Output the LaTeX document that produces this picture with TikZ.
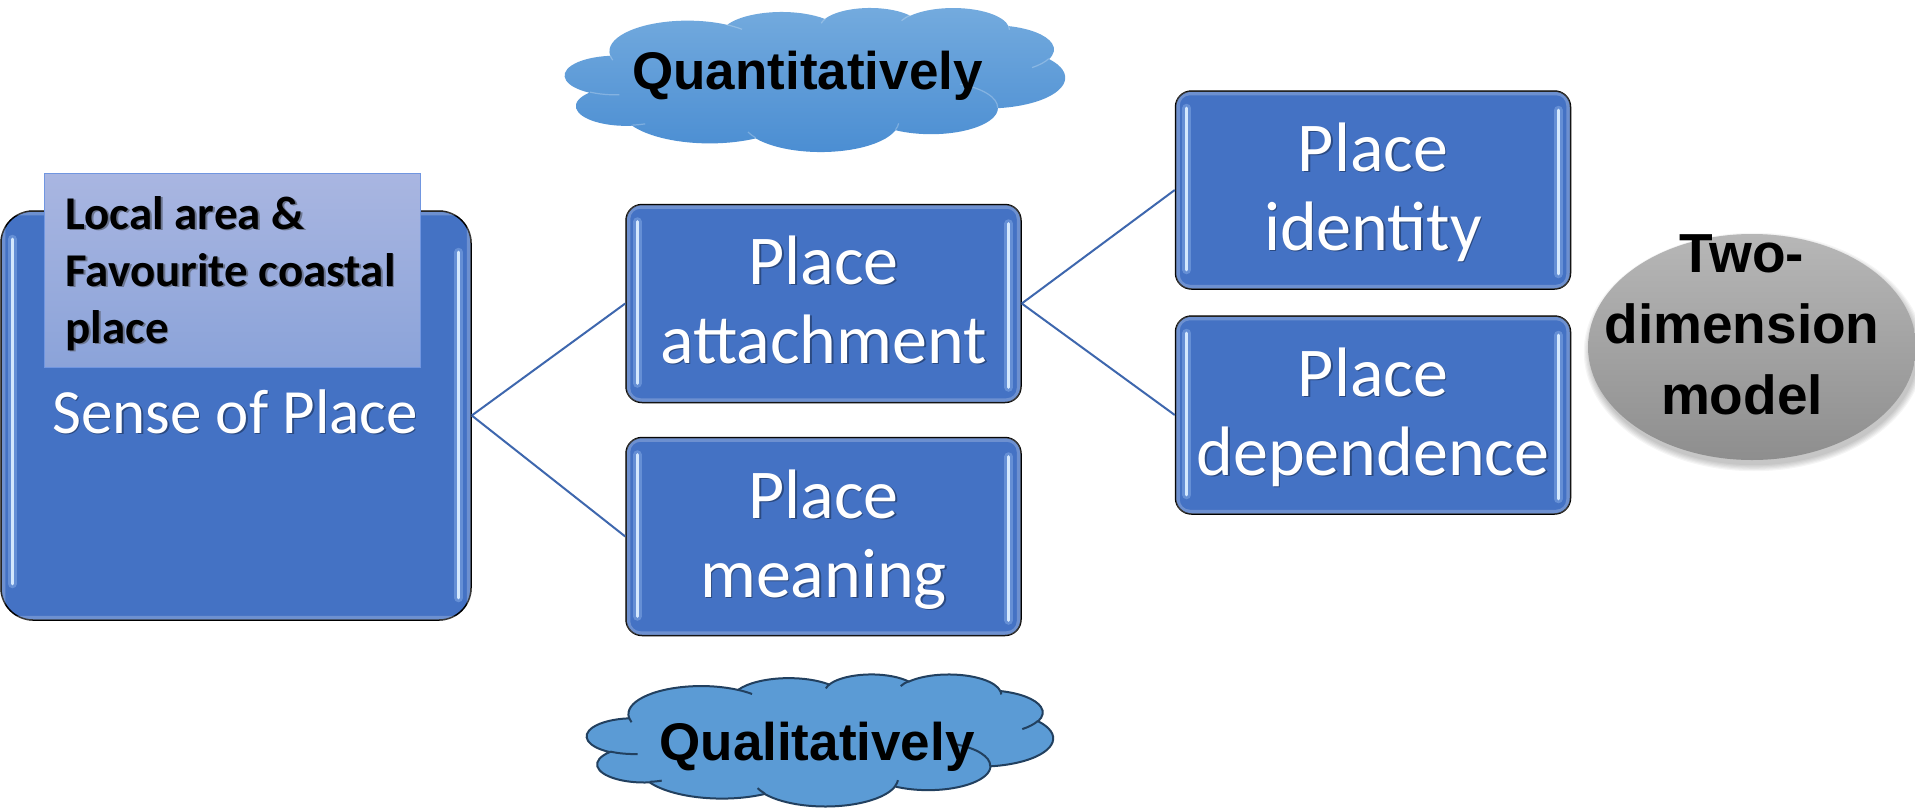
\documentclass[tikz,border=0pt]{standalone}
\usepackage{fontspec}
\setmainfont{Carlito}
\newfontfamily\arialfont{Liberation Sans}
\usetikzlibrary{calc,shapes.geometric}

\definecolor{boxblue}{HTML}{4472C4}
\definecolor{linkblue}{HTML}{3E67AE}
\definecolor{glintcore}{HTML}{D4E8FD}
\definecolor{glintglow}{HTML}{8FB4EA}
\definecolor{tagtop}{HTML}{A9B6E1}
\definecolor{tagbottom}{HTML}{8BA3D9}
\definecolor{tagedge}{HTML}{7196E0}
\definecolor{tagshadow}{HTML}{6C7690}
\definecolor{whiteshadow}{HTML}{2B4A82}
\definecolor{qtop}{HTML}{74ABDE}
\definecolor{qbottom}{HTML}{4A8DD2}
\definecolor{qlfill}{HTML}{5B9BD5}
\definecolor{qledge}{HTML}{22405F}
\definecolor{ovaltop}{HTML}{B7B7B7}
\definecolor{ovalbottom}{HTML}{8E8E8E}

% text with a small offset copy underneath
\newcommand\withshadow[3]{\leavevmode\rlap{\kern#2\raisebox{-#2}{\color{#1}#3}}#3}

% cloud outline in a 432 x 432 frame (y downwards)
\newcommand\cloudshape[1]{#1 (39.00,143.70)
  arc[start angle=-187.746, delta angle=128.110, x radius=67.53, y radius=91.90]
  arc[start angle=-152.019, delta angle=106.575, x radius=53.33, y radius=72.67]
  arc[start angle=-153.490, delta angle=116.168, x radius=43.65, y radius=59.45]
  arc[start angle=-139.717, delta angle=129.505, x radius=48.57, y radius=65.95]
  arc[start angle=-74.768, delta angle=97.977, x radius=53.33, y radius=72.73]
  arc[start angle=-37.520, delta angle=119.382, x radius=67.75, y radius=92.20]
  arc[start angle=0.460, delta angle=121.519, x radius=57.85, y radius=78.67]
  arc[start angle=16.846, delta angle=129.393, x radius=67.52, y radius=92.15]
  arc[start angle=58.992, delta angle=91.206, x radius=77.20, y radius=105.43]
  arc[start angle=-276.694, delta angle=139.785, x radius=43.60, y radius=59.18]
  arc[start angle=-239.644, delta angle=143.757, x radius=43.45, y radius=59.45]
  -- cycle;}
% the short inner folds between the puffs
\newcommand\cloudfolds[1]{\draw[#1]
  (46.93,261.77) arc[start angle=85.547, delta angle=34.809, x radius=43.45, y radius=59.45]
  (69.28,348.99) arc[start angle=68.237, delta angle=15.069, x radius=43.60, y radius=59.18]
  (164.78,390.90) arc[start angle=146.239, delta angle=12.234, x radius=67.52, y radius=92.15]
  (288.27,347.51) arc[start angle=4.738, delta angle=12.108, x radius=67.52, y radius=92.15]
  (341.29,229.54) arc[start angle=-64.028, delta angle=64.488, x radius=57.85, y radius=78.67]
  (417.98,153.54) arc[start angle=23.209, delta angle=26.420, x radius=53.33, y radius=72.73]
  (383.24,54.26) arc[start angle=-10.212, delta angle=11.033, x radius=48.57, y radius=65.95]
  (290.78,39.52) arc[start angle=-156.289, delta angle=16.572, x radius=48.57, y radius=65.95]
  (221.41,47.20) arc[start angle=-167.727, delta angle=14.237, x radius=43.65, y radius=59.45]
  (140.00,51.92) arc[start angle=-59.636, delta angle=13.913, x radius=67.53, y radius=91.90]
  (41.27,157.89) arc[start angle=163.194, delta angle=9.060, x radius=67.53, y radius=91.90];}

% two light strips along the inner left and right edges of a box
\newcommand\glint[5]{%
  \foreach \w/\c/\o in {4.5pt/glintglow/0.45, 1.6pt/glintcore/1} {
    \draw[line width=\w, draw=\c, opacity=\o, line cap=round]
      ($(#1.north west)+(12,#2)$) -- ($(#1.south west)+(12,-#3)$)
      ($(#1.north east)+(-13,#4)$) -- ($(#1.south east)+(-13,-#5)$);
  }%
  \draw[white, opacity=0.22, line width=2pt, rounded corners=6pt]
    ($(#1.north west)+(3,3)$) rectangle ($(#1.south east)+(-3,-3)$);
}

\tikzset{
  pbox/.style={draw=black, line width=0.75pt, fill=boxblue, rounded corners=8pt,
    inner sep=0pt, minimum width=197.5pt, minimum height=99pt},
  link/.style={draw=linkblue, line width=1pt},
  boxtext/.style={text=white, inner sep=0pt, anchor=base,
    font=\fontsize{35}{39.5}\selectfont},
  cloudtext/.style={text=black, inner sep=0pt, anchor=base,
    font=\arialfont\bfseries\fontsize{26.5}{30}\selectfont},
}

\begin{document}
\begin{tikzpicture}[x=0.5pt, y=-0.5pt]
\useasboundingbox (0,0) rectangle (1915,809);
\fill[white] (0,0) rectangle (1915,809);

% boxes
\node[pbox, rounded corners=16pt, minimum width=235pt, minimum height=204.5pt] (sop) at (236,415.5) {};
\node[pbox] (attach) at (823.5,303.5) {};
\node[pbox] (meaning) at (823.5,536.5) {};
\node[pbox] (identity) at (1373,190) {};
\node[pbox] (depend) at (1373,415) {};

\glint{sop}{29}{37}{42}{23}
\glint{attach}{18}{20}{20}{16}
\glint{meaning}{18}{20}{20}{16}
\glint{identity}{18}{20}{20}{16}
\glint{depend}{18}{20}{20}{16}

% connectors
\draw[link] (sop.east) -- (attach.west);
\draw[link] (sop.east) -- (meaning.west);
\draw[link] (attach.east) -- (identity.west);
\draw[link] (attach.east) -- (depend.west);

% label patch on the large box
\node[draw=tagedge, line width=0.5pt, top color=tagtop, bottom color=tagbottom,
  minimum width=188pt, minimum height=97pt, inner sep=0pt] (tag) at (232,270) {};
\node[anchor=base west, inner sep=0pt, text=black,
  font=\bfseries\fontsize{23.5}{28.5}\selectfont] (tag-text) at (65,229)
  {\withshadow{tagshadow}{0.9pt}{\begin{tabular}[t]{@{}l@{}}Local area \&\\Favourite coastal\\place\end{tabular}}};

% box texts
\node[boxtext, font=\fontsize{31.5}{36}\selectfont] (sop-text) at (235,433)
  {\withshadow{whiteshadow}{0.8pt}{Sense of Place}};
\node[boxtext] (attach-text) at (823.5,284)
  {\withshadow{whiteshadow}{0.8pt}{\begin{tabular}[t]{@{}c@{}}Place\\attachment\end{tabular}}};
\node[boxtext] (meaning-text) at (823.5,518)
  {\withshadow{whiteshadow}{0.8pt}{\begin{tabular}[t]{@{}c@{}}Place\\meaning\end{tabular}}};
\node[boxtext] (identity-text) at (1373,171)
  {\withshadow{whiteshadow}{0.8pt}{\begin{tabular}[t]{@{}c@{}}Place\\identity\end{tabular}}};
\node[boxtext] (depend-text) at (1373,396)
  {\withshadow{whiteshadow}{0.8pt}{\begin{tabular}[t]{@{}c@{}}Place\\dependence\end{tabular}}};

% grey oval with a soft rim
\foreach \k in {1,...,6}
  \fill[black, opacity=0.04] (1754,352) ellipse [x radius=163+\k*1.2, y radius=112+\k*1.2];
\node[ellipse, minimum width=164pt, minimum height=113pt, inner sep=0pt,
  top color=ovaltop, bottom color=ovalbottom] (model) at (1752,347) {};
\node[anchor=base, inner sep=0pt, text=black,
  font=\arialfont\bfseries\fontsize{27.5}{35.5}\selectfont] (model-text) at (1742,272)
  {\begin{tabular}[t]{@{}c@{}}Two-\\dimension\\model\end{tabular}};

% upper cloud
\begin{scope}[shift={(565,7.5)}]
  \begin{scope}[x=0.5787pt, y=-0.16667pt]
    \cloudshape{\shade[top color=qtop, bottom color=qbottom]}
    \cloudfolds{white, opacity=0.25, line width=0.6pt}
  \end{scope}
\end{scope}
\node[cloudtext] (quant) at (807.5,89) {Quantitatively};

% lower cloud
\begin{scope}[shift={(587,674)}]
  \begin{scope}[x=0.53935pt, y=-0.15278pt]
    \cloudshape{\filldraw[fill=qlfill, draw=qledge, line width=1pt]}
    \cloudfolds{qledge, line width=1pt}
  \end{scope}
\end{scope}
\node[cloudtext] (qual) at (817,760) {Qualitatively};

\end{tikzpicture}
\end{document}
